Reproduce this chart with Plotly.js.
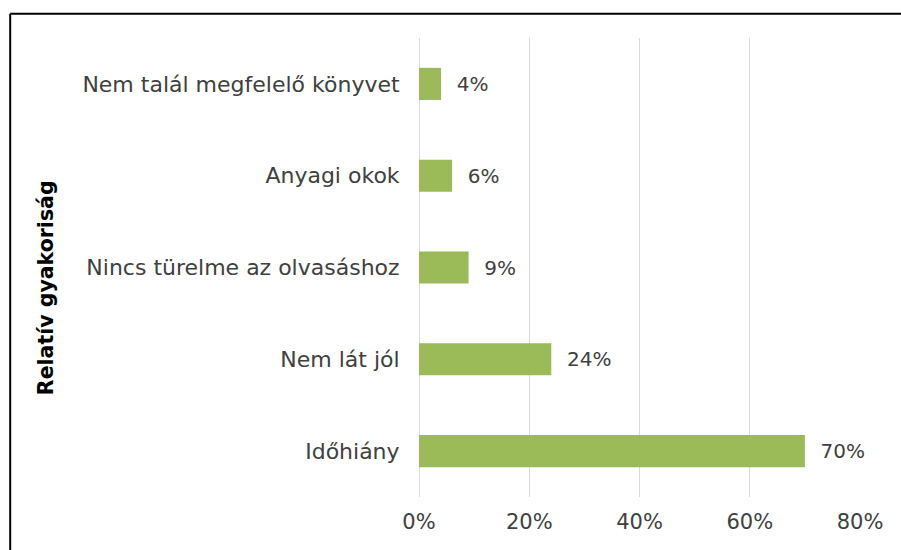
<!DOCTYPE html>
<html>
<head>
<meta charset="utf-8">
<script src="https://cdn.plot.ly/plotly-3.0.1.min.js"></script>
<style>
html,body{margin:0;padding:0;background:#fff;}
#chart{width:901px;height:550px;}
</style>
</head>
<body>
<div id="chart"></div>
<script>
// Categories listed bottom to top
const categories = ['Időhiány', 'Nem lát jól', 'Nincs türelme az olvasáshoz', 'Anyagi okok', 'Nem talál megfelelő könyvet'];
const shares = [0.70, 0.24, 0.09, 0.06, 0.04];
const xTickValues = [0, 0.2, 0.4, 0.6, 0.8];
const xTickLabels = ['0%', '20%', '40%', '60%', '80%'];
const yAxisTitle = 'Relatív gyakoriság';

const font = 'DejaVu Sans, Liberation Sans, Arial, sans-serif';

const trace = {
  type: 'bar',
  orientation: 'h',
  x: shares,
  y: categories,
  marker: {color: '#9BBB59'},
  text: shares.map(v => '\u00a0\u00a0' + Math.round(v * 100) + '%'),
  textposition: 'outside',
  cliponaxis: false,
  textfont: {family: font, size: 20, color: '#404040'},
  hoverinfo: 'none'
};

const layout = {
  width: 901,
  height: 550,
  margin: {l: 419, r: 41, t: 38, b: 53},
  paper_bgcolor: '#ffffff',
  plot_bgcolor: '#ffffff',
  showlegend: false,
  bargap: 0.65,
  font: {family: font, color: '#404040', size: 20},
  xaxis: {
    range: [0, 0.8],
    tickvals: xTickValues,
    ticktext: xTickLabels,
    showgrid: true,
    gridcolor: '#d9d9d9',
    gridwidth: 1,
    zeroline: true,
    zerolinecolor: '#d9d9d9',
    zerolinewidth: 1,
    showline: false,
    ticks: 'outside',
    ticklen: 6,
    tickcolor: 'rgba(0,0,0,0)',
    tickfont: {family: font, size: 21, color: '#404040'},
    fixedrange: true
  },
  yaxis: {
    type: 'category',
    showgrid: false,
    zeroline: false,
    showline: false,
    ticks: 'outside',
    ticklen: 14,
    tickcolor: 'rgba(0,0,0,0)',
    tickfont: {family: font, size: 22, color: '#404040'},
    fixedrange: true
  },
  annotations: [
    {text: '<b>' + yAxisTitle + '</b>', xref: 'paper', yref: 'paper', x: -0.846, y: 0.457,
     xanchor: 'center', yanchor: 'middle', textangle: -90, showarrow: false,
     font: {family: font, size: 20.5, color: '#000000'}}
  ],
  shapes: [
    {type: 'line', xref: 'paper', yref: 'paper', x0: -0.927, x1: -0.927, y0: -0.25, y1: 1.053, line: {color: '#000', width: 2}},
    {type: 'line', xref: 'paper', yref: 'paper', x0: -0.927, x1: 1.2, y0: 1.053, y1: 1.053, line: {color: '#000', width: 2}}
  ]
};

Plotly.newPlot('chart', [trace], layout, {displayModeBar: false, staticPlot: true});
</script>
</body>
</html>
